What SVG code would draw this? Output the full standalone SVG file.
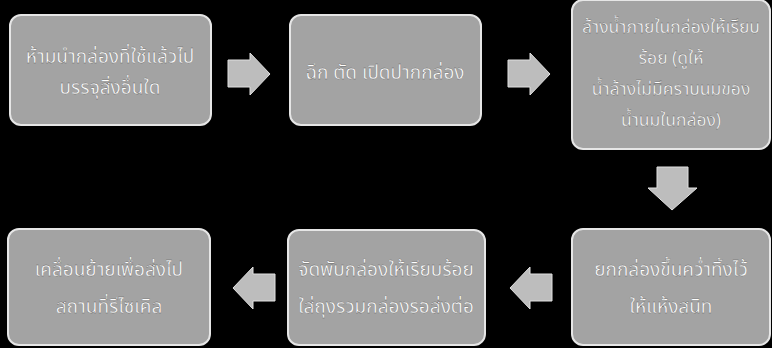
<svg xmlns="http://www.w3.org/2000/svg" width="772" height="348" viewBox="0 0 772 348">
<defs>
<style>
.box{fill:#a3a3a3;stroke:#e6e6e6;stroke-width:2}
.t{font-family:"Noto Sans Thai","Noto Serif Thai","Liberation Serif",serif;font-size:19px;fill:#ffffff;stroke:#555;stroke-width:0.3;text-anchor:middle}
.s{font-size:17.5px}
.arr{fill:#bdbdbd;stroke:#e0e0e0;stroke-width:1}
</style>
</defs>
<rect width="772" height="348" fill="#000"/>
<g id="node1"><rect class="box" x="10" y="15" width="201" height="110" rx="11"/>
<text class="t" x="110" y="63">ห้ามนำกล่องที่ใช้แล้วไป</text><text class="t" x="110" y="94">บรรจุสิ่งอื่นใด</text></g>
<g id="node2"><rect class="box" x="290" y="15" width="191" height="110" rx="11"/>
<text class="t" x="385" y="79">ฉีก ตัด เปิดปากกล่อง</text></g>
<g id="node3"><rect class="box" x="572" y="0" width="198" height="149" rx="11"/>
<text class="t s" x="671" y="33">ล้างน้ำภายในกล่องให้เรียบ</text><text class="t s" x="671" y="64">ร้อย (ดูให้</text><text class="t s" x="671" y="95">น้ำล้างไม่มีคราบนมของ</text><text class="t s" x="671" y="126">น้ำนมในกล่อง)</text></g>
<g id="node4"><rect class="box" x="572" y="229" width="198" height="116" rx="11"/>
<text class="t" x="671" y="276">ยกกล่องขึ้นคว่ำทิ้งไว้</text><text class="t" x="671" y="313">ให้แห้งสนิท</text></g>
<g id="node5"><rect class="box" x="288" y="230" width="197" height="115" rx="11"/>
<text class="t" x="386" y="276">จัดพับกล่องให้เรียบร้อย</text><text class="t" x="386" y="313">ใส่ถุงรวมกล่องรอส่งต่อ</text></g>
<g id="node6"><rect class="box" x="8" y="229" width="202" height="116" rx="11"/>
<text class="t" x="109" y="276">เคลื่อนย้ายเพื่อส่งไป</text><text class="t" x="109" y="313">สถานที่รีไซเคิล</text></g>
<g id="connectors">
<polygon class="arr" points="228,60 250,60 250,53 270,74 250,95 250,87 228,87"/>
<polygon class="arr" points="508,60 530,60 530,53 550,74 530,95 530,87 508,87"/>
<polygon class="arr" points="657,167 688,167 688,188 697,188 672,210 648,188 657,188"/>
<polygon class="arr" points="552,274 530,274 530,267 510,288 530,309 530,301 552,301"/>
<polygon class="arr" points="275,274 253,274 253,267 233,288 253,309 253,301 275,301"/>
</g>
</svg>
